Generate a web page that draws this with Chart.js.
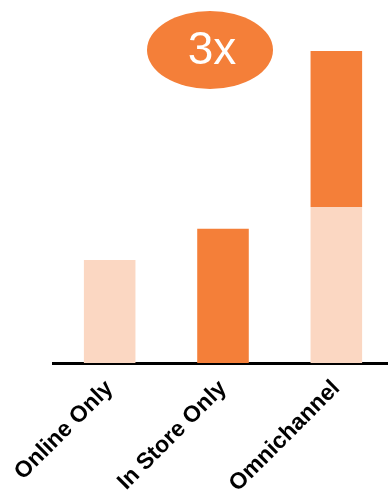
<!DOCTYPE html>
<html>
<head>
<meta charset="utf-8">
<script src="https://cdn.jsdelivr.net/npm/chart.js@4"></script>
<style>
  html, body { margin: 0; padding: 0; background: #fff; overflow: hidden; }
  #wrap { width: 393px; height: 498px; }
</style>
</head>
<body>
<div id="wrap"><canvas id="channelChart"></canvas></div>
<script>
// chart data
const categories = ['Online Only', 'In Store Only', 'Omnichannel'];
const baseValues = [33, 0, 50];     // light peach segment
const extraValues = [0, 43, 50];    // orange segment
const bubbleText = '3x';

const LIGHT = '#FBD7C2';
const ORANGE = '#F47F39';

// draws the "3x" bubble above the bars
const bubblePlugin = {
  id: 'bubble',
  afterDraw(chart) {
    const c = chart.ctx;
    const area = chart.chartArea;
    const cx = area.left + 157;
    const cy = area.top - 1;
    c.save();
    c.fillStyle = ORANGE;
    c.beginPath();
    c.ellipse(cx, cy, 63, 39, 0, 0, Math.PI * 2);
    c.fill();
    c.fillStyle = '#fff';
    c.font = '46px "Liberation Sans", Arial, sans-serif';
    c.textAlign = 'center';
    c.textBaseline = 'middle';
    c.fillText(bubbleText, cx + 2, cy + 1);
    c.restore();
  }
};

new Chart(document.getElementById('channelChart'), {
  type: 'bar',
  data: {
    labels: categories,
    datasets: [{
      data: baseValues,
      backgroundColor: LIGHT,
      borderWidth: 0
    }, {
      data: extraValues,
      backgroundColor: ORANGE,
      borderWidth: 0
    }]
  },
  options: {
    responsive: true,
    maintainAspectRatio: false,
    animation: false,
    events: [],
    categoryPercentage: 1,
    barPercentage: 0.455,
    layout: {
      padding: { left: 53, right: 0, top: 51, bottom: 0 }
    },
    plugins: {
      legend: { display: false },
      tooltip: { enabled: false }
    },
    scales: {
      x: {
        stacked: true,
        grid: { display: false },
        border: { display: true, color: '#000', width: 3 },
        ticks: {
          color: '#000',
          maxRotation: 45,
          minRotation: 45,
          padding: 4,
          font: { family: '"Liberation Sans", Arial, sans-serif', size: 23, weight: 'bold' }
        },
        afterFit(scale) {
          scale.height = 135;
        }
      },
      y: {
        stacked: true,
        display: false,
        min: 0,
        max: 100
      }
    }
  },
  plugins: [bubblePlugin]
});
</script>
</body>
</html>
